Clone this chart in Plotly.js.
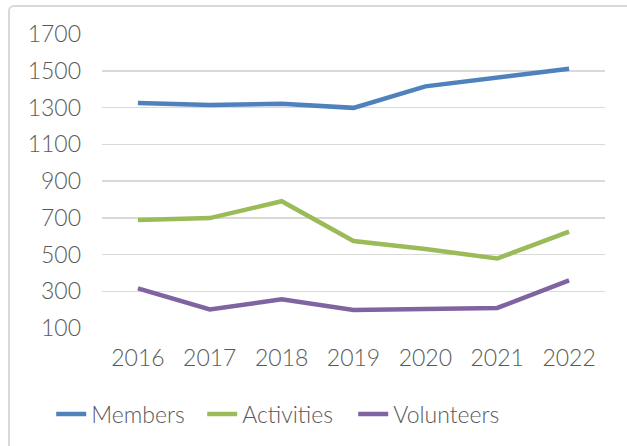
<!DOCTYPE html>
<html>
<head>
<meta charset="utf-8">
<script src="https://cdn.plot.ly/plotly-3.0.1.min.js"></script>
<style>
html,body{margin:0;padding:0;background:#fff;overflow:hidden;}
#wrap{position:relative;width:627px;height:446px;}
#frame{position:absolute;left:8px;top:5px;width:660px;height:480px;border:2px solid #d9d9d9;border-radius:6px;box-sizing:border-box;pointer-events:none;}
#chart{position:absolute;left:0;top:0;width:627px;height:446px;}
</style>
</head>
<body>
<div id="wrap">
<div id="frame"></div>
<div id="chart"></div>
</div>
<script>
const years = ['2016','2017','2018','2019','2020','2021','2022'];
const members = [1325, 1314, 1320, 1298, 1415, 1460, 1511];
const activities = [688, 698, 790, 573, 530, 478, 624];
const volunteers = [316, 201, 256, 198, 203, 209, 359];
const yTicks = [100, 300, 500, 700, 900, 1100, 1300, 1500, 1700];

const font = {family: 'Lato, "Open Sans", sans-serif', size: 23, color: '#595959', weight: 300};
function tr(name, y, color){
  return {type:'scatter', mode:'lines', name:name, x:years, y:y,
    line:{color:color, width:4.5}};
}
const data = [
  tr('Members', members, '#4f81bd'),
  tr('Activities', activities, '#9bbb59'),
  tr('Volunteers', volunteers, '#8064a2')
];
const layout = {
  width:627, height:446,
  margin:{l:102, r:22, t:34, b:117},
  paper_bgcolor:'rgba(0,0,0,0)', plot_bgcolor:'rgba(0,0,0,0)',
  font: font,
  showlegend:true,
  legend:{orientation:'h', x:-0.101, xanchor:'left', y:-0.288, yanchor:'middle',
    font:font, bgcolor:'rgba(0,0,0,0)', itemwidth:30, entrywidth:106, entrywidthmode:'pixels'},
  xaxis:{type:'category', range:[-0.5,6.5], showgrid:false, zeroline:false, showline:false, ticks:'',
    tickfont:font, ticklabelstandoff:14, fixedrange:true},
  yaxis:{range:[100,1700], tickvals:yTicks, ticktext:yTicks.map(String), showgrid:true,
    gridcolor:'#d9d9d9', gridwidth:1.5, zeroline:false, showline:false, ticks:'',
    tickfont:font, ticklabelstandoff:20, fixedrange:true}
};
Plotly.newPlot('chart', data, layout, {staticPlot:true, displayModeBar:false});
</script>
</body>
</html>
